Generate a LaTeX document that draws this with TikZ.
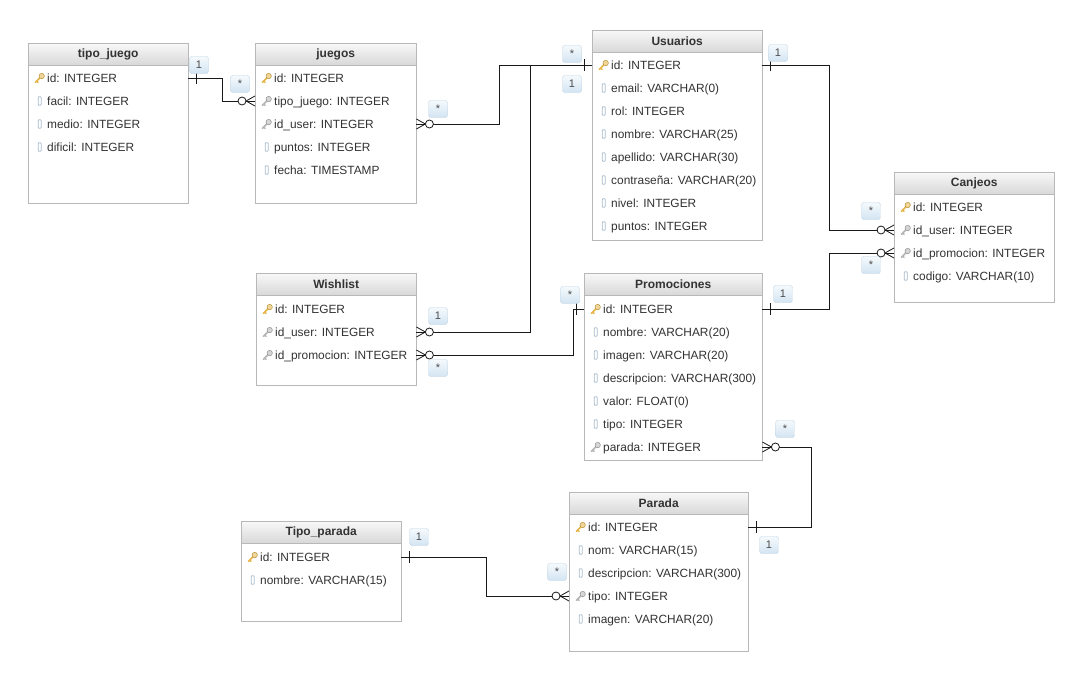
\documentclass[tikz,border=0pt]{standalone}
\usepackage{fontspec}
\setmainfont{Liberation Sans}
\usetikzlibrary{positioning}

\definecolor{tblline}{HTML}{B8B8B8}
\definecolor{hdrtop}{HTML}{F8F8F8}
\definecolor{hdrbot}{HTML}{D8D8D8}
\definecolor{cardline}{HTML}{BFD3E3}
\definecolor{cardtop}{HTML}{F5FAFD}
\definecolor{cardbot}{HTML}{D3E4F2}
\definecolor{keygold}{HTML}{E6B545}
\definecolor{keygray}{HTML}{B4B4B4}
\definecolor{colgray}{HTML}{A9BCCD}
\definecolor{txt}{HTML}{333333}

\newcommand{\keyicon}[1]{\makebox[15pt]{\tikz[x=1pt,y=1pt,baseline=1pt]{\draw[#1,line width=1.5pt,line cap=round] (1,1) -- (6,6) (2.2,2.2) -- (3.6,0.8); \draw[#1!80!black,fill=#1!55,line width=0.5pt] (7.2,7.2) circle (2.7);}}}
\newcommand{\pkicon}{\keyicon{keygold}}
\newcommand{\fkicon}{\keyicon{keygray}}
\newcommand{\colicon}{\makebox[15pt]{\tikz[x=1pt,y=1pt,baseline=0pt]\draw[colgray,line width=0.8pt,rounded corners=0.8pt] (0,0) rectangle (3,8.5);}}

\begin{document}
\begin{tikzpicture}[x=1pt,y=-1pt,
  tbl/.style={draw=tblline, fill=white, anchor=north west, inner sep=0pt},
  hdr/.style={draw=tblline, top color=hdrtop, bottom color=hdrbot, anchor=north west, minimum height=22pt, inner sep=0pt, text=txt, font=\fontsize{12}{14}\selectfont\bfseries},
  row/.style={anchor=west, inner sep=0pt, text height=8.5pt, text depth=0pt, text=txt, font=\fontsize{11.9}{14}\selectfont},
  card/.style={draw=cardline, rounded corners=2.5pt, top color=cardtop, bottom color=cardbot, minimum width=19pt, minimum height=17pt, inner sep=0pt, text=black!70, font=\fontsize{11}{11}\selectfont},
  rel/.style={draw=black!90, line width=1pt},
  onebar/.pic={\draw[black!90, line width=1pt] (8,-6) -- (8,6);},
  manyfoot/.pic={\draw[black!90, line width=0.8pt] (0,-5) -- (9,0) -- (0,5); \draw[black!90, line width=0.8pt, fill=white] (13,0) circle (4);}]
\fill[white] (0,0) rectangle (1081,680);
\useasboundingbox (0,0) rectangle (1081,680);

% tipo_juego
\node[tbl, minimum width=160pt, minimum height=160pt] (tipojuego) at (28,43) {};
\node[hdr, minimum width=160pt] (tipojuego-h) at (28,43) {tipo\_juego};
\node[row] (tj-id) at (32,78) {\pkicon id: INTEGER};
\node[row] (tj-facil) at (32,101) {\colicon facil: INTEGER};
\node[row] (tj-medio) at (32,124) {\colicon medio: INTEGER};
\node[row] (tj-dificil) at (32,147) {\colicon dificil: INTEGER};

% juegos
\node[tbl, minimum width=161pt, minimum height=160pt] (juegos) at (255,43) {};
\node[hdr, minimum width=161pt] (juegos-h) at (255,43) {juegos};
\node[row] (jg-id) at (259,78) {\pkicon id: INTEGER};
\node[row] (jg-tipo) at (259,101) {\fkicon tipo\_juego: INTEGER};
\node[row] (jg-user) at (259,124) {\fkicon id\_user: INTEGER};
\node[row] (jg-puntos) at (259,147) {\colicon puntos: INTEGER};
\node[row] (jg-fecha) at (259,170) {\colicon fecha: TIMESTAMP};

% Usuarios
\node[tbl, minimum width=170pt, minimum height=210pt] (usuarios) at (592,30) {};
\node[hdr, minimum width=170pt] (usuarios-h) at (592,30) {Usuarios};
\node[row] (us-id) at (596,65) {\pkicon id: INTEGER};
\node[row] (us-email) at (596,88) {\colicon email: VARCHAR(0)};
\node[row] (us-rol) at (596,111) {\colicon rol: INTEGER};
\node[row] (us-nombre) at (596,134) {\colicon nombre: VARCHAR(25)};
\node[row] (us-apellido) at (596,157) {\colicon apellido: VARCHAR(30)};
\node[row] (us-pass) at (596,180) {\colicon contraseña: VARCHAR(20)};
\node[row] (us-nivel) at (596,203) {\colicon nivel: INTEGER};
\node[row] (us-puntos) at (596,226) {\colicon puntos: INTEGER};

% Canjeos
\node[tbl, minimum width=160pt, minimum height=130pt] (canjeos) at (894,172) {};
\node[hdr, minimum width=160pt] (canjeos-h) at (894,172) {Canjeos};
\node[row] (cj-id) at (898,207) {\pkicon id: INTEGER};
\node[row] (cj-user) at (898,230) {\fkicon id\_user: INTEGER};
\node[row] (cj-promo) at (898,253) {\fkicon id\_promocion: INTEGER};
\node[row] (cj-codigo) at (898,276) {\colicon codigo: VARCHAR(10)};

% Wishlist
\node[tbl, minimum width=160pt, minimum height=112pt] (wishlist) at (256,273) {};
\node[hdr, minimum width=160pt] (wishlist-h) at (256,273) {Wishlist};
\node[row] (wl-id) at (260,309) {\pkicon id: INTEGER};
\node[row] (wl-user) at (260,332) {\fkicon id\_user: INTEGER};
\node[row] (wl-promo) at (260,355) {\fkicon id\_promocion: INTEGER};

% Promociones
\node[tbl, minimum width=178pt, minimum height=187pt] (promociones) at (584,273) {};
\node[hdr, minimum width=178pt] (promociones-h) at (584,273) {Promociones};
\node[row] (pr-id) at (588,309) {\pkicon id: INTEGER};
\node[row] (pr-nombre) at (588,332) {\colicon nombre: VARCHAR(20)};
\node[row] (pr-imagen) at (588,355) {\colicon imagen: VARCHAR(20)};
\node[row] (pr-desc) at (588,378) {\colicon descripcion: VARCHAR(300)};
\node[row] (pr-valor) at (588,401) {\colicon valor: FLOAT(0)};
\node[row] (pr-tipo) at (588,424) {\colicon tipo: INTEGER};
\node[row] (pr-parada) at (588,447) {\fkicon parada: INTEGER};

% Parada
\node[tbl, minimum width=179pt, minimum height=159pt] (parada) at (569,492) {};
\node[hdr, minimum width=179pt] (parada-h) at (569,492) {Parada};
\node[row] (pa-id) at (573,527) {\pkicon id: INTEGER};
\node[row] (pa-nom) at (573,550) {\colicon nom: VARCHAR(15)};
\node[row] (pa-desc) at (573,573) {\colicon descripcion: VARCHAR(300)};
\node[row] (pa-tipo) at (573,596) {\fkicon tipo: INTEGER};
\node[row] (pa-imagen) at (573,619) {\colicon imagen: VARCHAR(20)};

% Tipo_parada
\node[tbl, minimum width=160pt, minimum height=100pt] (tipoparada) at (241,521) {};
\node[hdr, minimum width=160pt] (tipoparada-h) at (241,521) {Tipo\_parada};
\node[row] (tp-id) at (245,557) {\pkicon id: INTEGER};
\node[row] (tp-nombre) at (245,580) {\colicon nombre: VARCHAR(15)};

% relaciones
\draw[rel] (tipojuego.east |- tj-id) -- ++(34,0) |- (juegos.west |- jg-tipo);
\draw[rel] (juegos.east |- jg-user) -- ++(83,0) |- (usuarios.west |- us-id);
\draw[rel] (wishlist.east |- wl-user) -- ++(114,0) |- (usuarios.west |- us-id);
\draw[rel] (usuarios.east |- us-id) -- ++(67,0) |- (canjeos.west |- cj-user);
\draw[rel] (promociones.east |- pr-id) -- ++(67,0) |- (canjeos.west |- cj-promo);
\draw[rel] (wishlist.east |- wl-promo) -- ++(157,0) |- (promociones.west |- pr-id);
\draw[rel] (promociones.east |- pr-parada) -- ++(49,0) |- (parada.east |- pa-id);
\draw[rel] (tipoparada.east |- tp-id) -- ++(85,0) |- (parada.west |- pa-tipo);

\pic at (tipojuego.east |- tj-id) {onebar};
\pic[xscale=-1] at (juegos.west |- jg-tipo) {manyfoot};
\pic at (juegos.east |- jg-user) {manyfoot};
\pic[xscale=-1] at (usuarios.west |- us-id) {onebar};
\pic at (wishlist.east |- wl-user) {manyfoot};
\pic at (usuarios.east |- us-id) {onebar};
\pic[xscale=-1] at (canjeos.west |- cj-user) {manyfoot};
\pic at (promociones.east |- pr-id) {onebar};
\pic[xscale=-1] at (canjeos.west |- cj-promo) {manyfoot};
\pic at (wishlist.east |- wl-promo) {manyfoot};
\pic[xscale=-1] at (promociones.west |- pr-id) {onebar};
\pic at (promociones.east |- pr-parada) {manyfoot};
\pic at (parada.east |- pa-id) {onebar};
\pic at (tipoparada.east |- tp-id) {onebar};
\pic[xscale=-1] at (parada.west |- pa-tipo) {manyfoot};

% cardinalidades
\node[card] (k-tj) at (199,65) {1};
\node[card] (k-jg1) at (240,84) {*};
\node[card] (k-jg2) at (438,109) {*};
\node[card] (k-us1) at (572,54) {*};
\node[card] (k-us2) at (572,84) {1};
\node[card] (k-us3) at (778,53) {1};
\node[card] (k-cj1) at (871,211) {*};
\node[card] (k-cj2) at (871,265) {*};
\node[card] (k-pr1) at (783,294) {1};
\node[card] (k-wl1) at (438,316) {1};
\node[card] (k-wl2) at (438,368) {*};
\node[card] (k-pr2) at (570,295) {*};
\node[card] (k-pr3) at (785,429) {*};
\node[card] (k-pa) at (769,545) {1};
\node[card] (k-tp) at (419,537) {1};
\node[card] (k-pa2) at (557,572) {*};
\end{tikzpicture}
\end{document}
